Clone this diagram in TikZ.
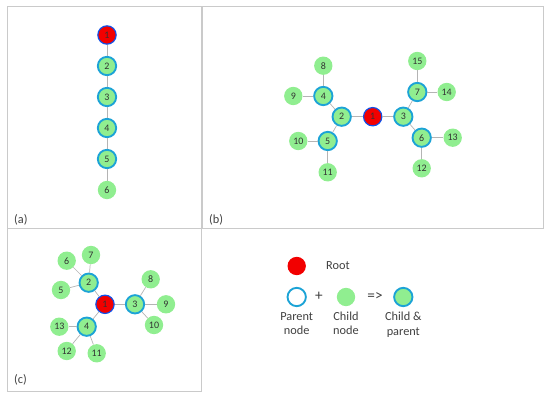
\documentclass[tikz,border=0pt]{standalone}
\usepackage{fontspec}
\setmainfont{Carlito}
\usepackage{xcolor}
\usepackage{tikz}
\usetikzlibrary{positioning}

\definecolor{leafgreen}{HTML}{90EE90}
\definecolor{parentblue}{HTML}{1CA3D6}
\definecolor{rootred}{HTML}{F20000}
\definecolor{edgegray}{HTML}{B4B4B4}
\definecolor{framegray}{HTML}{CACACA}

\begin{document}
\begin{tikzpicture}[
    x=0.03cm, y=-0.03cm,
    vtx/.style={circle, minimum size=0.55cm, inner sep=0pt, font=\fontsize{8.5}{9}\selectfont, text=black!80},
    leaf/.style={vtx, fill=leafgreen},
    parent/.style={vtx, fill=leafgreen, draw=parentblue, line width=1.6pt},
    root/.style={vtx, fill=rootred, draw=parentblue!50!blue, line width=1pt},
    link/.style={draw=edgegray, line width=0.6pt},
    frame/.style={draw=framegray, line width=0.8pt},
    legtext/.style={font=\fontsize{10.5}{12}\selectfont, text=black!75, align=center}
]
\useasboundingbox (0,0) rectangle (550,398);

% panels
\draw[frame] (7,6) rectangle (201,228);
\draw[frame] (202,6) rectangle (543,228);
\draw[frame] (7,228) rectangle (201,391);
\node[legtext, anchor=west] (taga) at (10,220) {(a)};
\node[legtext, anchor=west] (tagb) at (205,220) {(b)};
\node[legtext, anchor=west] (tagc) at (10,380) {(c)};

% (a) chain
\node[root] (a1) at (107,35) {1};
\node[parent] (a2) at (107,66) {2};
\node[parent] (a3) at (107,97) {3};
\node[parent] (a4) at (107,128) {4};
\node[parent] (a5) at (107,159) {5};
\node[leaf] (a6) at (107,190) {6};
\foreach \u/\v in {a1/a2, a2/a3, a3/a4, a4/a5, a5/a6}
    \draw[link] (\u) -- (\v);

% (b) binary tree
\node[root] (b1) at (372.7,116.7) {1};
\node[parent] (b2) at (341.7,116.7) {2};
\node[parent] (b3) at (403.3,116.7) {3};
\node[parent] (b4) at (323.3,96) {4};
\node[parent] (b5) at (327.7,141) {5};
\node[parent] (b6) at (421.7,137.7) {6};
\node[parent] (b7) at (417.3,92) {7};
\node[leaf] (b8) at (323.3,65.7) {8};
\node[leaf] (b9) at (293.3,96) {9};
\node[leaf] (b10) at (298.3,141) {10};
\node[leaf] (b11) at (327.7,172.3) {11};
\node[leaf] (b12) at (421.7,168.3) {12};
\node[leaf] (b13) at (452.7,137.7) {13};
\node[leaf] (b14) at (446.7,92) {14};
\node[leaf] (b15) at (417.3,61) {15};
\foreach \u/\v in {b1/b2, b1/b3, b2/b4, b2/b5, b4/b8, b4/b9, b5/b10, b5/b11,
                   b3/b7, b3/b6, b7/b15, b7/b14, b6/b13, b6/b12}
    \draw[link] (\u) -- (\v);

% (c) ternary tree
\node[root] (c1) at (105,304.3) {1};
\node[parent] (c2) at (88.7,282.7) {2};
\node[parent] (c3) at (135,304.3) {3};
\node[parent] (c4) at (86.7,326.7) {4};
\node[leaf] (c5) at (61,290) {5};
\node[leaf] (c6) at (66.7,260.7) {6};
\node[leaf] (c7) at (91,255) {7};
\node[leaf] (c8) at (150.7,279.3) {8};
\node[leaf] (c9) at (166,304.3) {9};
\node[leaf] (c10) at (154,325) {10};
\node[leaf] (c11) at (96.7,353.3) {11};
\node[leaf] (c12) at (66.7,351) {12};
\node[leaf] (c13) at (59.3,326.7) {13};
\foreach \u/\v in {c1/c2, c1/c3, c1/c4, c2/c5, c2/c6, c2/c7,
                   c3/c8, c3/c9, c3/c10, c4/c11, c4/c12, c4/c13}
    \draw[link] (\u) -- (\v);

% legend
\node[vtx, fill=rootred] (keyroot) at (296.7,266) {};
\node[legtext, anchor=west] (keyroottxt) at (322,266) {Root};
\node[vtx, fill=white, draw=parentblue, line width=1.6pt] (keypar) at (296.7,297) {};
\node[legtext, font=\fontsize{13}{14}\selectfont] (plus) at (319,296) {+};
\node[vtx, fill=leafgreen] (keychild) at (346,297) {};
\node[legtext, font=\fontsize{13}{14}\selectfont] (yields) at (375,297) {=>};
\node[parent] (keyboth) at (403.3,297) {};
\node[legtext, below=1pt of keypar] (keypartxt) {Parent\\node};
\node[legtext, below=1pt of keychild] (keychildtxt) {Child\\node};
\node[legtext, below=1pt of keyboth] (keybothtxt) {Child \&\\parent};
\end{tikzpicture}
\end{document}
